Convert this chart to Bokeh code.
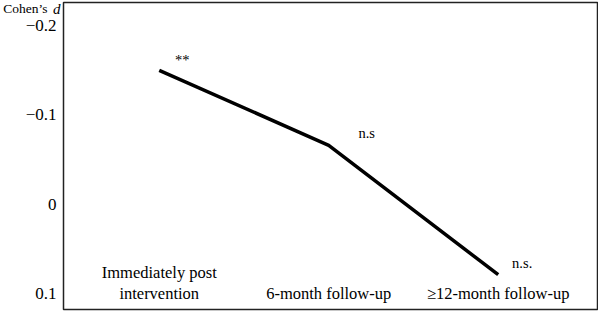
from bokeh.plotting import figure
from bokeh.models import Range1d, FixedTicker, LinearAxis
from bokeh.core.properties import value
from bokeh.embed import file_html
from bokeh.resources import INLINE

categories = ["Immediately post\nintervention", "6-month follow-up", "\u226512-month follow-up"]
cohens_d = [-0.150, -0.066, 0.079]
sig_labels = ["**", "n.s", "n.s."]
tick_values = [-0.2, -0.1, 0, 0.1]
tick_labels = ["\u22120.2", "\u22120.1", "0", "0.1"]
axis_title_regular = "Cohen\u2019s"
axis_title_italic = "d"

FONT = "Liberation Serif"
xs = list(range(len(categories)))
TITLE_POS = -0.2195  # value level at which the axis title sits (top of axis)

p = figure(width=598, height=313, output_backend="svg", toolbar_location=None,
           x_range=Range1d(-0.565, 2.586), y_range=Range1d(0.118, -0.226),
           x_axis_location=None, y_axis_location=None,
           min_border_left=60, min_border_right=1, min_border_top=2, min_border_bottom=4)
p.xgrid.visible = False
p.ygrid.visible = False
p.outline_line_color = "#222222"
p.outline_line_width = 1.5


def make_axis(ticks, labels, size, standoff, italic=False):
    ax = LinearAxis(ticker=FixedTicker(ticks=ticks),
                    major_label_overrides=dict(zip(ticks, labels)),
                    major_label_standoff=standoff)
    ax.axis_line_color = None
    ax.major_tick_line_color = None
    ax.minor_tick_line_color = None
    ax.major_tick_out = 0
    ax.major_tick_in = 0
    ax.minor_tick_out = 0
    ax.minor_tick_in = 0
    ax.major_label_text_font = FONT
    ax.major_label_text_font_size = size
    ax.major_label_text_color = "black"
    if italic:
        ax.major_label_text_font_style = "italic"
    return ax


# innermost: italic "d" of the axis title
p.add_layout(make_axis([TITLE_POS], [axis_title_italic], "15px", 3, italic=True), "left")
# regular part of the axis title, next to the "d"
p.add_layout(make_axis([TITLE_POS], [axis_title_regular], "13.5px", 2), "left")
# numeric tick labels, pulled right so they line up under the "d"
p.add_layout(make_axis(tick_values, tick_labels, "17px", -56), "left")

p.line(xs, cohens_d, line_width=3.5, line_color="black")

# significance labels, offset from the points (screen px)
p.text(x=xs, y=cohens_d, text=sig_labels, x_offset=[23, 38, 24], y_offset=[-10, -12, -12],
       text_font=value(FONT), text_font_size="14.5px", text_color="black",
       text_align="center", text_baseline="middle")

# category labels inside the frame near the bottom
lines_last = [c.split("\n")[-1] for c in categories]
p.text(x=xs, y=[0.1] * 3, text=lines_last, text_font=value(FONT), text_font_size="16.5px",
       text_color="black", text_align="center", text_baseline="middle")
first_lines = [c.split("\n")[0] for c in categories if "\n" in c]
p.text(x=xs[:len(first_lines)], y=[0.1] * len(first_lines), y_offset=[-21] * len(first_lines),
       text=first_lines, text_font=value(FONT), text_font_size="16.5px",
       text_color="black", text_align="center", text_baseline="middle")

open("out.html", "w").write(file_html(p, INLINE))
